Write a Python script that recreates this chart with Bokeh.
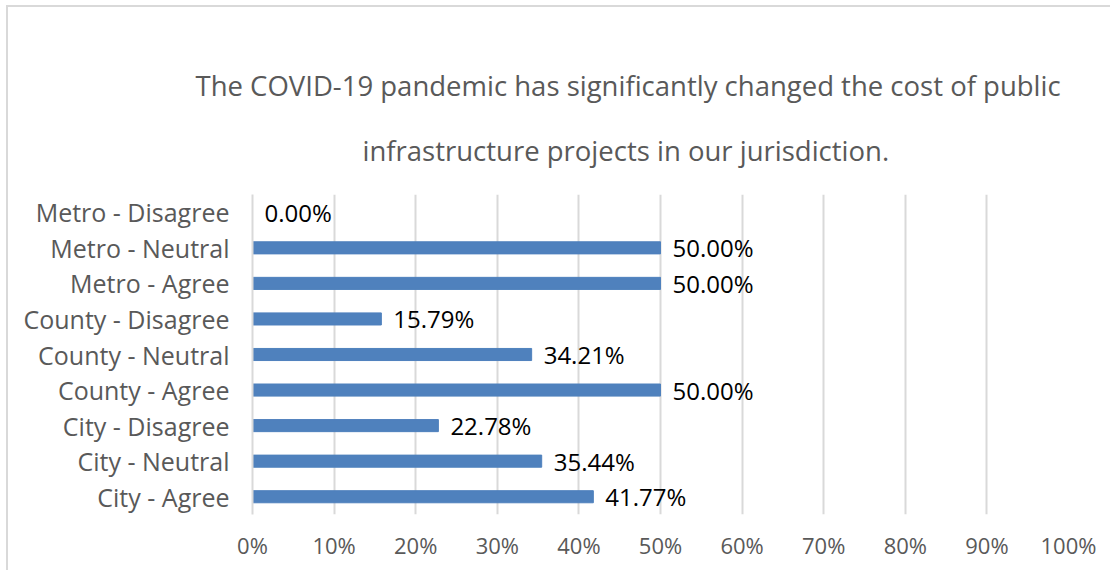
from bokeh.plotting import figure
from bokeh.models import ColumnDataSource, Range1d, NumeralTickFormatter, FixedTicker, Title
from bokeh.core.properties import value
from bokeh.embed import file_html
from bokeh.resources import INLINE

categories = ["City - Agree", "City - Neutral", "City - Disagree",
              "County - Agree", "County - Neutral", "County - Disagree",
              "Metro - Agree", "Metro - Neutral", "Metro - Disagree"]
values = [0.4177, 0.3544, 0.2278, 0.50, 0.3421, 0.1579, 0.50, 0.50, 0.0]
labels = ["41.77%", "35.44%", "22.78%", "50.00%", "34.21%", "15.79%", "50.00%", "50.00%", "0.00%"]
x_ticks = [0, 0.1, 0.2, 0.3, 0.4, 0.5, 0.6, 0.7, 0.8, 0.9, 1.0]
title_lines = ["The COVID-19 pandemic has significantly changed the cost of public",
               "infrastructure projects in our jurisdiction."]

FONT = "Open Sans"
GRAY = "#595959"

pos = list(range(len(categories)))
src = ColumnDataSource(dict(pos=pos, cat=categories, val=values, lab=labels))

p = figure(width=1104, height=565, y_range=Range1d(-0.5, len(categories) - 0.5),
           x_range=Range1d(0, 1), output_backend="svg", toolbar_location=None,
           min_border_left=244, min_border_right=44, min_border_top=187, min_border_bottom=58,
           outline_line_color=None, background_fill_color="white", border_fill_color="white",
           styles={"border-left": "2px solid #d9d9d9", "border-top": "2px solid #d9d9d9",
                   "margin-left": "6px", "margin-top": "5px"})

p.hbar(y="pos", right="val", left=0, height=0.34, source=src, color="#4f81bd")
p.text(x="val", y="pos", text="lab", source=src, x_offset=12, text_baseline="middle",
       text_align="left", text_font=value(FONT), text_font_size="24px", text_color="black")

p.xaxis.ticker = FixedTicker(ticks=x_ticks)
p.xaxis.formatter = NumeralTickFormatter(format="0%")
p.xaxis.axis_line_color = None
p.xaxis.major_tick_line_color = None
p.xaxis.minor_tick_line_color = None
p.xaxis.major_label_standoff = 9
p.xaxis.major_label_text_font = FONT
p.xaxis.major_label_text_font_size = "22px"
p.xaxis.major_label_text_color = GRAY

p.yaxis.ticker = FixedTicker(ticks=pos)
p.yaxis.major_label_overrides = {i: c for i, c in zip(pos, categories)}
p.yaxis.axis_line_color = "#d9d9d9"
p.yaxis.axis_line_width = 2
p.yaxis.major_tick_line_color = None
p.yaxis.minor_tick_line_color = None
p.yaxis.major_label_standoff = 17
p.yaxis.major_label_text_font = FONT
p.yaxis.major_label_text_font_size = "25px"
p.yaxis.major_label_text_color = GRAY

p.xgrid.grid_line_color = "#d9d9d9"
p.xgrid.grid_line_width = 2
p.ygrid.grid_line_color = None

# second line first (closest to the plot), then first line above it
title_offsets = [110, -57]
title_standoffs = [51, 1]
for txt, off, so in zip(reversed(title_lines), title_offsets, title_standoffs):
    p.add_layout(Title(text=txt, align="left", offset=off,
                       text_font=FONT, text_font_size="27.5px", text_font_style="normal",
                       text_color=GRAY, text_line_height=1.0, standoff=so), "above")

open("out.html", "w").write(file_html(p, INLINE))
